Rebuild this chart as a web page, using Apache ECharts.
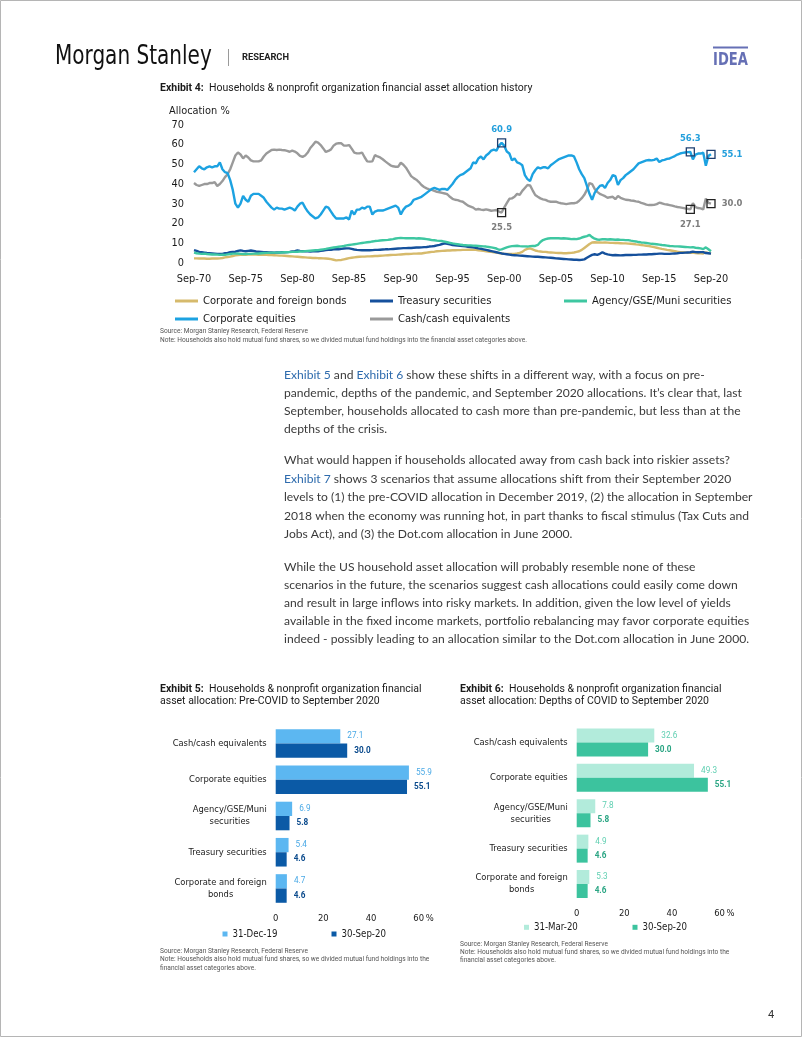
<!DOCTYPE html>
<html><head><meta charset="utf-8">
<script src="https://cdn.jsdelivr.net/npm/echarts/dist/echarts.min.js"></script>
<style>html,body{margin:0;padding:0;background:#fff}#c{width:802px;height:1037px}</style>
</head><body><div id="c"></div>
<script>
// ---------- Exhibit 4 data (quarterly, Sep-70 .. Sep-20) ----------
const quarterMonths = ['Sep', 'Dec', 'Mar', 'Jun'];
const startYear = 1970;
const nQuarters = 201;
const xTickEvery = 20; // one label every 5 years
const yTicks = [0, 10, 20, 30, 40, 50, 60, 70];

const bonds = [
2.2,2.2,2.1,2.1, 2.1,2.0,2.0,2.1, 2.2,2.1,2.2,2.4, 2.7,2.9,3.1,3.4, 3.7,3.9,4.0,4.0,
4.0,4.1,4.1,4.1, 4.1,4.0,4.0,4.0, 4.0,3.9,3.9,3.8, 3.7,3.6,3.6,3.5, 3.4,3.3,3.2,3.1,
3.0,2.9,2.8,2.7, 2.6,2.5,2.4,2.4, 2.3,2.3,2.2,2.1, 2.0,1.8,1.5,1.2, 1.3,1.4,1.7,2.0,
2.3,2.5,2.7,2.9, 3.0,3.1,3.1,3.2, 3.2,3.3,3.4,3.4, 3.5,3.6,3.7,3.8, 3.9,4.0,4.0,4.1,
4.2,4.3,4.4,4.4, 4.5,4.6,4.6,4.7, 4.7,4.9,5.1,5.3, 5.5,5.6,5.8,5.9, 6.0,6.1,6.2,6.2,
6.3,6.3,6.4,6.4, 6.5,6.5,6.6,6.6, 6.6,6.5,6.3,6.2, 6.0,5.8,5.6,5.5, 5.3,5.1,4.9,4.7,
4.5,4.5,4.4,4.5, 4.5,4.7,5.0,5.5, 6.5,7.0,7.3,6.8, 6.2,5.9,5.7,5.5, 5.5,5.3,5.2,5.1,
5.0,4.9,4.9,4.8, 4.8,4.9,5.0,5.2, 5.5,5.8,6.5,7.5, 8.5,9.5,10.3,10.4, 10.3,10.3,10.2,10.3,
10.2,10.1,10.1,10.0, 10.0,9.9,9.8,9.8, 9.7,9.6,9.5,9.3, 9.2,9.0,8.8,8.6, 8.5,8.2,7.9,7.6,
7.3,7.0,6.8,6.5, 6.3,6.1,5.9,5.6, 5.4,5.3,5.2,5.1, 5.0,5.2,4.9,4.8, 4.8,4.7,5.3,4.9,
4.6];
const treasury = [
6.4,6.0,5.5,5.3, 5.1,4.9,4.8,4.7, 4.6,4.5,4.4,4.5, 4.8,5.0,5.3,5.5, 5.6,6.0,6.3,6.0,
5.8,6.0,6.2,6.0, 5.7,5.6,5.5,5.4, 5.3,5.2,5.2,5.1, 5.2,5.2,5.3,5.3, 5.4,5.5,5.7,5.9,
6.2,6.0,5.9,5.8, 5.8,5.7,5.8,5.8, 5.8,6.0,6.2,6.4, 6.5,6.6,6.8,6.8, 6.8,7.0,7.2,7.3,
7.3,7.0,6.7,6.5, 6.4,6.3,6.3,6.3, 6.3,6.4,6.5,6.5, 6.6,6.7,6.8,6.8, 6.9,7.0,7.1,7.2,
7.3,7.4,7.4,7.5, 7.5,7.6,7.7,7.7, 7.8,7.9,8.0,8.2, 8.3,8.5,8.8,9.1, 9.5,9.8,9.6,9.3,
9.0,8.9,8.7,8.6, 8.4,8.3,8.1,8.0, 7.8,7.6,7.3,7.1, 6.8,6.5,6.2,5.9, 5.6,5.3,5.0,4.7,
4.5,4.3,4.1,3.9, 3.8,3.7,3.6,3.5, 3.4,3.3,3.2,3.1, 3.0,3.0,2.9,2.8, 2.7,2.6,2.5,2.4,
2.2,2.1,2.0,1.9, 1.8,1.7,1.6,1.5, 1.5,1.4,1.5,1.7, 2.5,3.3,4.0,4.3, 4.0,4.5,5.3,4.6,
4.2,4.0,3.8,3.9, 3.8,3.7,3.8,3.9, 3.9,3.9,4.0,4.0, 4.1,4.1,4.2,4.2, 4.3,4.3,4.4,4.5,
4.6,4.6,4.5,4.5, 4.5,4.6,4.7,4.8, 5.0,5.0,5.1,5.2, 5.3,5.6,5.4,5.3, 5.4,5.4,4.9,4.8,
4.6];
const agency = [
5.1,4.8,4.6,4.5, 4.6,4.4,4.3,4.2, 4.2,4.1,4.0,4.1, 4.0,4.2,4.4,4.6, 4.6,4.7,4.5,4.4,
4.4,4.5,4.5,4.6, 4.6,4.7,4.8,4.9, 5.0,5.0,5.1,5.1, 5.1,5.2,5.2,5.3, 5.3,5.4,5.5,5.5,
5.6,5.7,5.7,5.9, 6.0,6.1,6.2,6.3, 6.4,6.6,6.8,7.0, 7.3,7.5,7.7,7.9, 8.1,8.3,8.5,8.8,
9.0,9.2,9.4,9.6, 9.8,10.0,10.2,10.4, 10.5,10.8,11.0,11.1, 11.3,11.4,11.5,11.6, 11.8,12.0,12.3,12.5,
12.6,12.5,12.4,12.5, 12.4,12.5,12.3,12.4, 12.3,12.2,12.0,11.8, 11.5,11.4,11.2,11.1, 11.0,10.7,10.4,10.1,
9.8,9.6,9.4,9.2, 9.0,8.9,8.8,8.8, 8.7,8.6,8.5,8.4, 8.3,8.2,8.0,7.8, 7.5,7.2,6.6,6.8,
7.3,7.8,8.2,8.4, 8.5,8.6,8.4,8.3, 8.3,8.2,8.4,8.5, 8.5,9.0,10.5,11.5, 12.0,12.3,12.4,12.5,
12.4,12.4,12.3,12.4, 12.3,12.2,12.0,12.1, 12.0,12.3,12.8,13.2, 13.5,14.1,13.0,12.2, 11.8,11.7,11.9,11.9,
11.8,11.9,11.8,11.7, 11.8,11.6,11.6,11.5, 11.5,11.2,11.0,10.8, 10.5,10.3,10.2,10.0, 9.8,9.6,9.5,9.4,
9.2,9.0,8.9,8.7, 8.5,8.4,8.3,8.3, 8.2,8.1,8.0,7.9, 7.8,7.9,7.6,7.5, 7.3,6.9,7.8,6.8,
5.8];
const equities = [
46,47.5,49,48, 47.5,48.5,49,48.5, 49,49,51,47.5, 46,45.5,42,37, 30,28,30,34,
32,31,34,35, 35,35,34,33, 31,29.5,28,27, 28,27.5,27.5,27, 27.5,28,27.5,26.5,
28.5,30,30.5,28, 26,24.5,23.5,22.5, 23,24.5,26.5,28.5, 28,26,24,22.5, 22.5,22.5,22.5,23,
22,26.5,24.5,27, 27,28,27.5,28.5, 28.5,24.5,26,26.5, 26.5,26.5,27,27.5, 28,28.5,29,28,
24.5,27,28.5,29, 30,32,32.5,33, 33.5,34.5,35.5,36.5, 37.5,38,37.5,37, 37.5,37.5,37,38.5,
40,42,43.5,44.5, 45,46,47,48, 51,50.5,53,54, 52.5,54.5,55.5,57, 57.5,57,59.5,60.9,
59.5,56.5,55.5,52, 53,51,50.5,49.5, 44.5,42.5,41.5,45, 47,48.5,48,48.5, 48.5,48,49.5,50.5,
51.5,52.5,53,53.5, 54,54.5,54.5,54, 51,47.5,45,43, 39,35,32,35.5, 37.5,39,39.5,38,
40.5,42,44.5,44, 39.5,42,43,44.5, 45.5,46.5,47.5,49, 50.5,51,51.5,52, 52.2,52,52.3,53,
51.2,52,52.3,52.8, 53,53.6,54.2,55, 55.5,55.8,56,56.2, 56.3,52.5,55,55.5, 55.5,55.9,49.3,54.3,
55.1];
const cash = [
40.5,39.5,39,39.5, 40,40,40.5,40.5, 41,39,40,41.5, 43.5,45,47.5,51, 54.5,56,55,53,
54.5,53.5,52,51.5, 51.5,51.5,52,54, 55.5,56.4,57.3,57.5, 57.3,57.5,57.3,57.2, 56.8,56.4,57,56.5,
55.6,54.3,53.8,54.5, 56,58.3,59.8,61.5, 61,59.8,58.1,56.3, 56.8,57.6,59.5,60.5, 60.7,60.7,59.5,59.5,
59.8,58,56,55.6, 55.6,56,53.6,51.5, 51.4,51.5,54.7,54, 53.5,52.6,51.5,50.5, 49.5,49,48.8,48.8,
50.8,49.8,48.3,46.2, 44,43,42.2,41, 39.5,38.5,37.8,37.3, 37,36.5,36,35.8, 35.5,35.2,34.8,33.5,
32.5,32,31.8,31.3, 31,30,29,28.5, 28,27,27.3,27, 26.8,27.1,26.8,26.4, 26.6,26.8,26,25.5,
28,30.3,32.5,32.7, 33.5,35,34.5,36.5, 38,39.5,39.3,36.8, 34.4,33.5,32.7,32.2, 31.9,31.3,31,31,
31,30.5,30.2,30, 29.8,30,30.2,30.2, 30.5,31.5,32.8,34.5, 37,40.5,40,37.5, 36,35,34.4,33.8,
33,33.3,33.5,32.3, 33.9,33,32.5,32, 31.9,31.6,31.5,31.2, 31,30.4,30,29.5, 29.3,29.3,29.4,29.8,
30.5,30.2,29.8,29.6, 29.3,29,28.6,28.3, 28.1,27.9,27.6,27.4, 27.1,30.2,28.3,27.8, 27.6,27.1,32.6,30.4,
30.0];
const markerIdx = [119, 192, 200]; // Jun-00, Sep-18, Sep-20
const equityLabelPos = ['top', 'top', 'right'];
const cashLabelPos = ['bottom', 'bottom', 'right'];

// ---------- Exhibits 5 & 6 data ----------
const barCats = ['Cash/cash equivalents', 'Corporate equities', 'Agency/GSE/Muni\nsecurities', 'Treasury securities', 'Corporate and foreign\nbonds'];
const ex5Dec19 = [27.1, 55.9, 6.9, 5.4, 4.7];
const ex5Sep20 = [30.0, 55.1, 5.8, 4.6, 4.6];
const ex6Mar20 = [32.6, 49.3, 7.8, 4.9, 5.3];
const ex6Sep20 = [30.0, 55.1, 5.8, 4.6, 4.6];
const barTicks = [0, 20, 40, 60];

// ---------- styling ----------
const NARROW = "'Liberation Sans Narrow','DejaVu Sans Condensed',sans-serif";
const SANS = "Roboto,'Liberation Sans',sans-serif";
const BODY = "Lato,'Open Sans',sans-serif";
const INK = '#1a1a1a';
const C = {
  bonds: '#d6ba6c', treasury: '#15509c', agency: '#3ec7a1', equities: '#1ca2e1', cash: '#9a9a9a',
  ex5Light: '#5cb7f1', ex5Dark: '#0b5aa6', ex5LightLbl: '#4aa9e6', ex5DarkLbl: '#0a4a8c',
  ex6Light: '#b2ebdb', ex6Dark: '#3cc39e', ex6LightLbl: '#5fcfb1', ex6DarkLbl: '#2aa583',
  link: '#2e6bad', body: '#3a3a3a', note: '#555', idea: '#6670b5'
};
const FS = { tick: 10.9, legend: 11.1, mark: 9.4, cat: 9.3, barTick: 9.4, barLegend: 9.6, barVal: 8.2 };

const dates = [];
for (let i = 0; i < nQuarters; i++) {
  const y = startYear + Math.floor(i / 4) + (i % 4 >= 2 ? 1 : 0);
  dates.push(quarterMonths[i % 4] + '-' + String(y % 100).padStart(2, '0'));
}

function marked(values, border, lblColor, positions) {
  return values.map((v, i) => {
    const k = markerIdx.indexOf(i);
    if (k < 0) return v;
    const pos = positions[k];
    return {
      value: v, symbol: 'rect', symbolSize: 8,
      itemStyle: { color: 'rgba(255,255,255,0)', borderColor: border, borderWidth: 1.3 },
      label: { show: true, position: pos, distance: pos === 'top' ? 4 : 6,
        formatter: p => Number(p.value).toFixed(1), color: lblColor, fontWeight: 'bold',
        fontSize: FS.mark, fontFamily: NARROW }
    };
  });
}

function lineSeries(name, data, color, z) {
  return { type: 'line', name, data, xAxisIndex: 0, yAxisIndex: 0, symbol: 'none', showAllSymbol: true,
    lineStyle: { width: 2.4, color }, itemStyle: { color }, z, silent: true, emphasis: { disabled: true } };
}

function barSeries(name, data, color, lblColor, bold, idx, width) {
  return { type: 'bar', name, data, xAxisIndex: idx, yAxisIndex: idx, barWidth: width, barGap: '0%',
    itemStyle: { color }, silent: true, emphasis: { disabled: true },
    label: { show: true, position: 'right', distance: 7, formatter: p => Number(p.value).toFixed(1),
      color: lblColor, fontSize: FS.barVal, fontWeight: bold ? 'bold' : 'normal', fontFamily: SANS } };
}

function catAxis(idx) {
  return { type: 'category', gridIndex: idx, data: barCats, inverse: true,
    axisLine: { show: false }, axisTick: { show: false },
    axisLabel: { margin: 9, formatter: v => v.split('\n').map(s => '{c|' + s + '}').join('\n'),
      rich: { c: { align: 'center', fontSize: FS.cat, fontFamily: NARROW, color: INK, lineHeight: 12 } } } };
}
function valAxis(idx) {
  return { type: 'value', gridIndex: idx, min: barTicks[0], max: barTicks[barTicks.length - 1],
    interval: barTicks[1] - barTicks[0], splitLine: { show: false }, axisLine: { show: false }, axisTick: { show: false },
    axisLabel: { margin: 7, fontSize: FS.barTick, fontFamily: NARROW, color: INK },
    name: '%', nameLocation: 'end', nameGap: 7, nameMoveOverlap: false,
    nameTextStyle: { fontSize: FS.barTick, fontFamily: NARROW, color: INK, verticalAlign: 'top', padding: [7, 0, 0, 0] } };
}

function lineLegend(name, left, top) {
  return { data: [name], left, top, padding: 0, itemGap: 0, icon: 'rect', itemWidth: 23, itemHeight: 3,
    selectedMode: false, textStyle: { fontSize: FS.legend, fontFamily: NARROW, color: INK, lineHeight: 14 } };
}
function boxLegend(item, left, top) {
  return { data: [item], left, top, padding: 0, itemGap: 0, icon: 'rect', itemWidth: 5, itemHeight: 5,
    selectedMode: false, textStyle: { fontSize: FS.barLegend, fontFamily: NARROW, color: INK, lineHeight: 14 } };
}

function T(x, y, text, font, fill, extra, scaleX) {
  return Object.assign({ type: 'text', x, y, silent: true, scaleX: scaleX || 1,
    style: Object.assign({ text, font, fill, align: 'left', verticalAlign: 'middle' }, extra || {}) });
}
const bodyFont = '12.1px ' + BODY;
function B(y, text) {
  return T(284, y, text, bodyFont, C.body, { rich: { l: { fill: C.link, font: bodyFont } } });
}
const titleFont = '10.5px ' + SANS;
const titleRich = { b: { font: 'bold 10.5px ' + SANS, fill: INK } };
const noteFont = '6.6px ' + SANS;

const graphics = [
  { type: 'rect', silent: true, shape: { x: 0.5, y: 0.5, width: 801, height: 1036 }, style: { fill: 'none', stroke: '#b5b5b5', lineWidth: 1 } },
  T(55, 57, 'Morgan Stanley', '27px ' + NARROW, '#111', null, 0.825),
  { type: 'line', silent: true, shape: { x1: 228.5, y1: 49, x2: 228.5, y2: 66 }, style: { stroke: '#9a9a9a', lineWidth: 1 } },
  T(242, 58, 'RESEARCH', 'bold 9.3px ' + SANS, '#222'),
  { type: 'line', silent: true, shape: { x1: 713, y1: 47.5, x2: 748, y2: 47.5 }, style: { stroke: C.idea, lineWidth: 2 } },
  T(713, 60, 'IDEA', 'bold 18px ' + NARROW, C.idea, null, 0.81),
  T(160, 88, '{b|Exhibit 4:}  Households & nonprofit organization financial asset allocation history', titleFont, INK, { rich: titleRich }),
  T(169, 111.5, 'Allocation %', FS.tick + 'px ' + NARROW, INK),
  T(160, 331.5, 'Source: Morgan Stanley Research, Federal Reserve', noteFont, C.note),
  T(160, 340.5, 'Note: Households also hold mutual fund shares, so we divided mutual fund holdings into the financial asset categories above.', noteFont, C.note),
  B(375, '{l|Exhibit 5} and {l|Exhibit 6} show these shifts in a different way, with a focus on pre-'),
  B(393, 'pandemic, depths of the pandemic, and September 2020 allocations. It\u2019s clear that, last'),
  B(411, 'September, households allocated to cash more than pre-pandemic, but less than at the'),
  B(429, 'depths of the crisis.'),
  B(460.5, 'What would happen if households allocated away from cash back into riskier assets?'),
  B(479, '{l|Exhibit 7} shows 3 scenarios that assume allocations shift from their September 2020'),
  B(497.3, 'levels to (1) the pre-COVID allocation in December 2019, (2) the allocation in September'),
  B(515.7, '2018 when the economy was running hot, in part thanks to fiscal stimulus (Tax Cuts and'),
  B(533.8, 'Jobs Act), and (3) the Dot.com allocation in June 2000.'),
  B(567.3, 'While the US household asset allocation will probably resemble none of these'),
  B(585.3, 'scenarios in the future, the scenarios suggest cash allocations could easily come down'),
  B(603.3, 'and result in large inflows into risky markets. In addition, given the low level of yields'),
  B(621.3, 'available in the fixed income markets, portfolio rebalancing may favor corporate equities'),
  B(639.3, 'indeed - possibly leading to an allocation similar to the Dot.com allocation in June 2000.'),
  T(160, 689, '{b|Exhibit 5:}  Households & nonprofit organization financial', titleFont, INK, { rich: titleRich }),
  T(160, 701.5, 'asset allocation: Pre-COVID to September 2020', titleFont, INK),
  T(460, 689, '{b|Exhibit 6:}  Households & nonprofit organization financial', titleFont, INK, { rich: titleRich }),
  T(460, 701.5, 'asset allocation: Depths of COVID to September 2020', titleFont, INK),
  T(160, 951, 'Source: Morgan Stanley Research, Federal Reserve', noteFont, C.note),
  T(160, 959.7, 'Note: Households also hold mutual fund shares, so we divided mutual fund holdings into the', noteFont, C.note),
  T(160, 968.3, 'financial asset categories above.', noteFont, C.note),
  T(460, 944.3, 'Source: Morgan Stanley Research, Federal Reserve', noteFont, C.note),
  T(460, 952.5, 'Note: Households also hold mutual fund shares, so we divided mutual fund holdings into the', noteFont, C.note),
  T(460, 960.8, 'financial asset categories above.', noteFont, C.note),
  T(768, 1015, '4', '11px ' + SANS, '#333')
];

const option = {
  animation: false,
  backgroundColor: '#ffffff',
  textStyle: { fontFamily: NARROW },
  grid: [
    { left: 194, top: 125, width: 517, height: 137.7, outerBoundsMode: 'none' },
    { left: 275.7, top: 725.4, width: 143, height: 181.2, outerBoundsMode: 'none' },
    { left: 576.7, top: 724.8, width: 142.8, height: 176.9, outerBoundsMode: 'none' }
  ],
  xAxis: [
    { type: 'category', gridIndex: 0, data: dates, boundaryGap: false,
      axisLine: { show: false }, axisTick: { show: false }, splitLine: { show: false },
      axisLabel: { interval: i => i % xTickEvery === 0, margin: 11, fontSize: FS.tick, fontFamily: NARROW, color: INK } },
    valAxis(1), valAxis(2)
  ],
  yAxis: [
    { type: 'value', gridIndex: 0, min: yTicks[0], max: yTicks[yTicks.length - 1], interval: yTicks[1] - yTicks[0],
      splitLine: { show: false }, axisLine: { show: false }, axisTick: { show: false },
      axisLabel: { margin: 10, fontSize: FS.tick, fontFamily: NARROW, color: INK } },
    catAxis(1), catAxis(2)
  ],
  legend: [
    lineLegend('Corporate and foreign bonds', 175, 294),
    lineLegend('Treasury securities', 370, 294),
    lineLegend('Agency/GSE/Muni securities', 564, 294),
    lineLegend('Corporate equities', 175, 312),
    lineLegend('Cash/cash equivalents', 370, 312),
    boxLegend('31-Dec-19', 222.5, 927),
    boxLegend('30-Sep-20', 331.5, 927),
    boxLegend('31-Mar-20', 524, 920.3),
    boxLegend({ name: '30-Sep-20', itemStyle: { color: C.ex6Dark } }, 632.5, 920.3)
  ],
  series: [
    lineSeries('Corporate and foreign bonds', bonds, C.bonds, 2),
    lineSeries('Treasury securities', treasury, C.treasury, 3),
    lineSeries('Agency/GSE/Muni securities', agency, C.agency, 4),
    lineSeries('Cash/cash equivalents', marked(cash, '#222', '#7d7d7d', cashLabelPos), C.cash, 5),
    lineSeries('Corporate equities', marked(equities, '#1d3f70', '#239fdc', equityLabelPos), C.equities, 6),
    barSeries('31-Dec-19', ex5Dec19, C.ex5Light, C.ex5LightLbl, false, 1, 14.3),
    barSeries('30-Sep-20', ex5Sep20, C.ex5Dark, C.ex5DarkLbl, true, 1, 14.3),
    barSeries('31-Mar-20', ex6Mar20, C.ex6Light, C.ex6LightLbl, false, 2, 14),
    barSeries('30-Sep-20', ex6Sep20, C.ex6Dark, C.ex6DarkLbl, true, 2, 14)
  ],
  graphic: graphics
};

const chart = echarts.init(document.getElementById('c'), null, { renderer: 'canvas', width: 802, height: 1037 });
chart.setOption(option);
</script></body></html>
